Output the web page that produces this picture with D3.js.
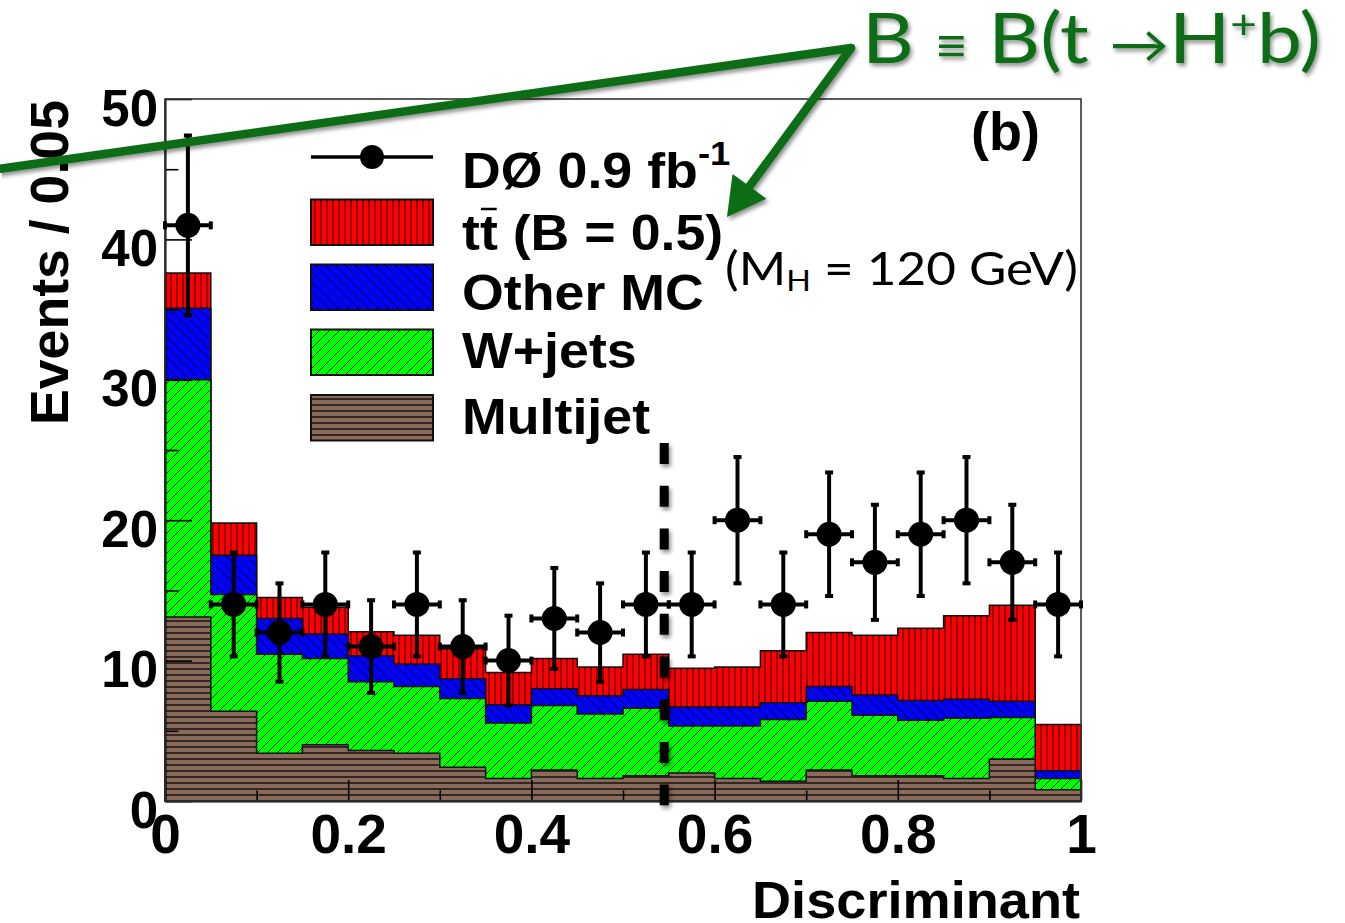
<!DOCTYPE html>
<html>
<head>
<meta charset="utf-8">
<script src="https://cdn.jsdelivr.net/npm/d3@7/dist/d3.min.js"></script>
<style>
  html, body { margin: 0; padding: 0; background: #fff; }
  svg { display: block; }
</style>
</head>
<body>
<svg id="chart" width="1345" height="923"></svg>
<script>
// Discriminant bins (lower edges), each 0.05 wide
const binLow = [0.00,0.05,0.10,0.15,0.20,0.25,0.30,0.35,0.40,0.45,0.50,0.55,0.60,0.65,0.70,0.75,0.80,0.85,0.90,0.95];
const binWidth = 0.05;

// Observed events per bin and their uncertainties
const dataCounts = [41,14,12,14,11,14,11,10,13,12,14,14,20,14,19,17,19,20,17,14];
const dataErrors = [6.4,3.7,3.5,3.7,3.3,3.7,3.3,3.2,3.6,3.5,3.7,3.7,4.5,3.7,4.4,4.1,4.4,4.5,4.1,3.7];

// Expected contributions, stacked bottom to top
const multijet = [13.1,6.4,3.4,4.0,3.6,3.4,2.4,1.6,2.2,1.6,1.8,2.0,1.6,1.4,2.2,1.8,1.8,1.6,3.0,0.8];
const wjets    = [16.9,8.3,7.05,6.15,4.9,4.75,4.9,3.95,4.6,4.6,4.8,3.35,3.75,4.4,4.9,4.3,3.95,4.3,2.95,0.8];
const otherMC  = [5.1,2.8,2.55,1.75,1.85,1.6,1.4,1.3,1.2,1.3,1.35,1.35,1.35,1.2,1.05,1.45,1.4,1.35,1.15,0.55];
const ttbar    = [2.5,2.3,1.5,1.9,1.7,2.05,2.15,2.3,2.15,2.05,2.5,2.75,2.85,3.7,3.85,4.25,5.15,5.95,6.85,3.3];

// Axis ticks
const xMajorTicks = [0,0.2,0.4,0.6,0.8,1];
const xTickLabels = ["0","0.2","0.4","0.6","0.8","1"];
const xMinorTicks = [0.1,0.3,0.5,0.7,0.9];
const yMajorTicks = [0,10,20,30,40,50];
const yMinorTicks = [5,15,25,35,45];

// Selection cut on the discriminant
const cutValue = 0.545;

const BOLD = "'Liberation Sans', Arial, Helvetica, sans-serif";
const HUMANIST = "Lato, 'Open Sans', 'DejaVu Sans', sans-serif";
const GREEN = "#0d6d14";

const svg = d3.select("#chart");
const defs = svg.append("defs");

const x = d3.scaleLinear().domain([0, 1]).range([165, 1081]);
const y = d3.scaleLinear().domain([0, 50]).range([801, 99]);

// ---- hatch patterns ----
function pattern(id, w, h, bg, pathD, sw, op) {
  const p = defs.append("pattern").attr("id", id)
    .attr("patternUnits", "userSpaceOnUse").attr("width", w).attr("height", h);
  p.append("rect").attr("width", w).attr("height", h).attr("fill", bg);
  p.append("path").attr("d", pathD).attr("stroke", "#000")
    .attr("stroke-width", sw).attr("stroke-opacity", op).attr("fill", "none");
}
pattern("hatch-tt", 6, 10, "#ff0000", "M3,0 L3,10", 1, 0.85);
pattern("hatch-other", 10, 10, "#0000ff", "M0,0 L10,10 M-1,9 L1,11 M9,-1 L11,1", 1, 0.85);
pattern("hatch-w", 10, 10, "#00ff00", "M0,10 L10,0 M-1,1 L1,-1 M9,11 L11,9", 1, 0.85);
pattern("hatch-mj", 10, 6, "#8a6a5a", "M0,3 L10,3", 1.6, 0.8);

// soft drop shadow for overlay marks (user-space region so thin vertical lines keep it)
const sh = defs.append("filter").attr("id", "shadow")
  .attr("filterUnits", "userSpaceOnUse")
  .attr("x", 0).attr("y", 0).attr("width", 1345).attr("height", 923);
sh.append("feGaussianBlur").attr("in", "SourceAlpha").attr("stdDeviation", 2.2).attr("result", "b");
sh.append("feOffset").attr("in", "b").attr("dx", 2).attr("dy", 3).attr("result", "o");
sh.append("feComponentTransfer").attr("in", "o").attr("result", "s")
  .append("feFuncA").attr("type", "linear").attr("slope", 0.45);
const m = sh.append("feMerge");
m.append("feMergeNode").attr("in", "s");
m.append("feMergeNode").attr("in", "SourceGraphic");

// ---- stacked histograms ----
const rows = binLow.map((b, i) => ({
  low: b, multijet: multijet[i], wjets: wjets[i], other: otherMC[i], ttbar: ttbar[i]
}));
const keys = ["multijet", "wjets", "other", "ttbar"];
const fills = { multijet: "url(#hatch-mj)", wjets: "url(#hatch-w)", other: "url(#hatch-other)", ttbar: "url(#hatch-tt)" };
const stacked = d3.stack().keys(keys)(rows);

const stepArea = d3.area()
  .curve(d3.curveStepAfter)
  .x(d => x(d.x)).y0(y(0)).y1(d => y(d.top));

const histG = svg.append("g");
// cumulative histograms drawn from the total downwards, each covering the previous
stacked.slice().reverse().forEach(series => {
  const pts = series.map((s, i) => ({ x: binLow[i], top: s[1] }));
  pts.push({ x: binLow[binLow.length - 1] + binWidth, top: series[series.length - 1][1] });
  histG.append("path")
    .attr("d", stepArea(pts))
    .attr("fill", fills[series.key])
    .attr("stroke", "#111").attr("stroke-width", 1.5)
    .attr("stroke-linejoin", "miter");
});

// ---- axes ----
const axG = svg.append("g");
const xMajor = axG.append("g").attr("transform", `translate(0,${y(0)})`)
  .call(d3.axisBottom(x).tickValues(xMajorTicks).tickFormat((d, i) => xTickLabels[i])
    .tickSizeInner(-21).tickSizeOuter(0).tickPadding(13));
axG.append("g").attr("transform", `translate(0,${y(0)})`)
  .call(d3.axisBottom(x).tickValues(xMinorTicks).tickFormat("")
    .tickSizeInner(-10.5).tickSizeOuter(0))
  .select(".domain").remove();
const yMajor = axG.append("g").attr("transform", `translate(${x(0)},0)`)
  .call(d3.axisLeft(y).tickValues(yMajorTicks).tickSizeInner(-27).tickSizeOuter(0).tickPadding(7));
axG.append("g").attr("transform", `translate(${x(0)},0)`)
  .call(d3.axisLeft(y).tickValues(yMinorTicks).tickFormat("").tickSizeInner(-13.5).tickSizeOuter(0))
  .select(".domain").remove();

axG.selectAll(".tick line").attr("stroke", "#000").attr("stroke-width", 1.6);
axG.selectAll(".domain").attr("stroke", "#000").attr("stroke-width", 2);
xMajor.selectAll("text").attr("font-family", BOLD).attr("font-weight", "bold")
  .attr("font-size", 55).attr("fill", "#000");
yMajor.selectAll("text").attr("font-family", BOLD).attr("font-weight", "bold")
  .attr("font-size", 51).attr("fill", "#000").attr("dy", "0.51em");

// frame
svg.append("rect").attr("x", x(0)).attr("y", y(50))
  .attr("width", x(1) - x(0)).attr("height", y(0) - y(50))
  .attr("fill", "none").attr("stroke", "#333").attr("stroke-width", 1.6);

// axis titles
svg.append("text").attr("transform", "translate(68,100) rotate(-90)")
  .attr("text-anchor", "end").attr("font-family", BOLD).attr("font-weight", "bold")
  .attr("font-size", 53).attr("textLength", 325).attr("lengthAdjust", "spacingAndGlyphs")
  .text("Events / 0.05");
svg.append("text").attr("x", 1080).attr("y", 918)
  .attr("text-anchor", "end").attr("font-family", BOLD).attr("font-weight", "bold")
  .attr("font-size", 52).attr("textLength", 328).attr("lengthAdjust", "spacingAndGlyphs")
  .text("Discriminant");

// ---- legend ----
const leg = svg.append("g");
const boxX = 311, boxW = 122, boxH = 45.5;
// data entry
leg.append("line").attr("x1", boxX).attr("x2", boxX + boxW).attr("y1", 157).attr("y2", 157)
  .attr("stroke", "#000").attr("stroke-width", 3.5);
leg.append("circle").attr("cx", boxX + boxW / 2).attr("cy", 157).attr("r", 12).attr("fill", "#000");
const legendBoxes = [
  { fill: fills.ttbar, top: 199.5 },
  { fill: fills.other, top: 264.5 },
  { fill: fills.wjets, top: 329.5 },
  { fill: fills.multijet, top: 395 }
];
legendBoxes.forEach(b => {
  leg.append("rect").attr("x", boxX).attr("y", b.top).attr("width", boxW).attr("height", boxH)
    .attr("fill", b.fill).attr("stroke", "#111").attr("stroke-width", 2);
});
const legText = leg.append("g").attr("transform", "translate(462,0) scale(1.075,1)")
  .attr("font-family", BOLD).attr("font-weight", "bold").attr("font-size", 50).attr("fill", "#000");
const t0 = legText.append("text").attr("x", 0).attr("y", 188);
t0.append("tspan").text("DØ 0.9 fb");
t0.append("tspan").attr("font-size", 34).attr("dy", -23).text("-1");
const t1 = legText.append("text").attr("x", 0).attr("y", 250).text("tt (B = 0.5)");
legText.append("text").attr("x", 0).attr("y", 310).text("Other MC");
legText.append("text").attr("x", 0).attr("y", 368).text("W+jets");
legText.append("text").attr("x", 0).attr("y", 434).text("Multijet");
// bar over the anti-top
const ext = t1.node().getExtentOfChar(1);
legText.append("line").attr("x1", ext.x + 1).attr("x2", ext.x + ext.width - 1)
  .attr("y1", 209).attr("y2", 209).attr("stroke", "#000").attr("stroke-width", 2.5);

// ---- data points ----
const ptsG = svg.append("g").attr("fill", "#000").attr("stroke", "#000");
binLow.forEach((b, i) => {
  const c = dataCounts[i], e = dataErrors[i];
  const cx = x(b + binWidth / 2), cy = y(c);
  const xl = x(b), xr = x(b + binWidth);
  const yt = y(c + e), yb = y(c - e);
  ptsG.append("line").attr("x1", cx).attr("x2", cx).attr("y1", yt).attr("y2", yb).attr("stroke-width", 4);
  ptsG.append("line").attr("x1", xl).attr("x2", xr).attr("y1", cy).attr("y2", cy).attr("stroke-width", 4);
  ptsG.append("rect").attr("x", cx - 4).attr("y", yt - 2).attr("width", 8).attr("height", 4).attr("stroke", "none");
  ptsG.append("rect").attr("x", cx - 4).attr("y", yb - 2).attr("width", 8).attr("height", 4).attr("stroke", "none");
  ptsG.append("rect").attr("x", xl - 2).attr("y", cy - 4).attr("width", 4).attr("height", 8).attr("stroke", "none");
  ptsG.append("rect").attr("x", xr - 2).attr("y", cy - 4).attr("width", 4).attr("height", 8).attr("stroke", "none");
  ptsG.append("circle").attr("cx", cx).attr("cy", cy).attr("r", 12.5).attr("stroke", "none");
});

// ---- cut line ----
svg.append("line").attr("x1", x(cutValue)).attr("x2", x(cutValue))
  .attr("y1", y(25.5)).attr("y2", y(-0.3))
  .attr("stroke", "#000").attr("stroke-width", 9).attr("stroke-dasharray", "21 21.7")
  .attr("filter", "url(#shadow)");

// ---- panel label and mass note ----
svg.append("text").attr("x", 971).attr("y", 150)
  .attr("font-family", BOLD).attr("font-weight", "bold").attr("font-size", 54).text("(b)");
const mh = svg.append("text").attr("x", 725).attr("y", 285)
  .attr("font-family", HUMANIST).attr("font-size", 46)
  .attr("textLength", 353).attr("lengthAdjust", "spacingAndGlyphs");
mh.append("tspan").text("(M");
mh.append("tspan").attr("font-size", 29).attr("dy", 6).text("H");
mh.append("tspan").attr("dy", -6).text(" = 120 GeV)");

// ---- branching-ratio annotation ----
const ann = svg.append("g").attr("filter", "url(#shadow)");
ann.append("line").attr("x1", -5).attr("y1", 169.5).attr("x2", 851).attr("y2", 48)
  .attr("stroke", GREEN).attr("stroke-width", 8.5).attr("stroke-linecap", "round");
const tip = [727, 217], from = [851, 48];
const dx = tip[0] - from[0], dy = tip[1] - from[1], len = Math.hypot(dx, dy);
const ux = dx / len, uy = dy / len, headL = 38, headW = 21;
const bx = tip[0] - ux * headL, by = tip[1] - uy * headL;
ann.append("line").attr("x1", from[0]).attr("y1", from[1]).attr("x2", bx + ux * 4).attr("y2", by + uy * 4)
  .attr("stroke", GREEN).attr("stroke-width", 8.5).attr("stroke-linecap", "round");
ann.append("path")
  .attr("d", `M${tip[0]},${tip[1]} L${bx - uy * headW},${by + ux * headW} L${bx + uy * headW},${by - ux * headW} Z`)
  .attr("fill", GREEN);

const br = svg.append("text").attr("x", 862).attr("y", 63)
  .attr("font-family", HUMANIST).attr("font-size", 70).attr("fill", GREEN)
  .attr("textLength", 459).attr("lengthAdjust", "spacingAndGlyphs")
  .attr("filter", "url(#shadow)");
br.append("tspan").text("B ");
br.append("tspan").attr("font-size", 50).text("≡");
br.append("tspan").text(" B(t ");
br.append("tspan").attr("font-size", 52).text("→");
br.append("tspan").text("H");
br.append("tspan").attr("font-size", 40).attr("dy", -24).text("+");
br.append("tspan").attr("dy", 24).text("b)");
</script>
</body>
</html>
